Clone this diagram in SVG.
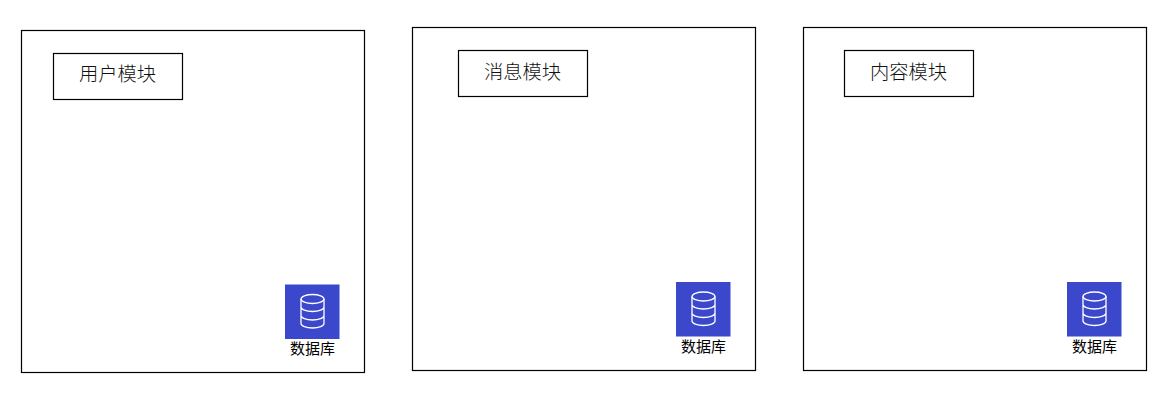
<svg xmlns="http://www.w3.org/2000/svg" width="1165" height="401" viewBox="0 0 1165 401">
<style>
.box{fill:#fff;stroke:#000;stroke-width:1.2}
.t{font-family:"Noto Sans CJK SC","Liberation Sans",sans-serif;fill:#000;text-anchor:middle}
.title{font-size:19.300px;font-weight:300;fill:#111}
.db{font-size:15px;font-weight:400}
.bg{fill:#3b48cc}
.ic{fill:none;stroke:#fff;stroke-width:1.3}
</style>
<defs>
<g id="dbicon">
<rect class="bg" x="0" y="-0.500" width="54.500" height="54.500"/>
<ellipse class="ic" cx="27.500" cy="14" rx="11.500" ry="4.500"/>
<path class="ic" d="M16 14V38.500C16 41 21 43 27.500 43S39 41 39 38.500V14M16 22C16 24.500 21 26.500 27.500 26.500S39 24.500 39 22M16 30.500C16 33 21 35 27.500 35S39 33 39 30.500"/>
</g>
</defs>
<rect width="1165" height="401" fill="#fff"/>
<g id="connectors"></g>
<g id="user-module">
<rect class="box" x="21.500" y="30.500" width="343" height="342"/>
<rect class="box" x="53.500" y="53.500" width="129" height="46"/>
<text class="t title" x="117.500" y="81">用户模块</text>
<use href="#dbicon" x="285" y="285"/>
<text class="t db" x="312.500" y="354">数据库</text>
</g>
<g id="message-module">
<rect class="box" x="412.500" y="27.500" width="343" height="343"/>
<rect class="box" x="458.500" y="50.500" width="129" height="46"/>
<text class="t title" x="522.500" y="78.500">消息模块</text>
<use href="#dbicon" x="676" y="282.500"/>
<text class="t db" x="703.500" y="352">数据库</text>
</g>
<g id="content-module">
<rect class="box" x="803.500" y="27.500" width="343" height="343"/>
<rect class="box" x="844.500" y="50.500" width="129" height="46"/>
<text class="t title" x="908.500" y="78.500">内容模块</text>
<use href="#dbicon" x="1067" y="282.500"/>
<text class="t db" x="1094.500" y="352">数据库</text>
</g>
</svg>
